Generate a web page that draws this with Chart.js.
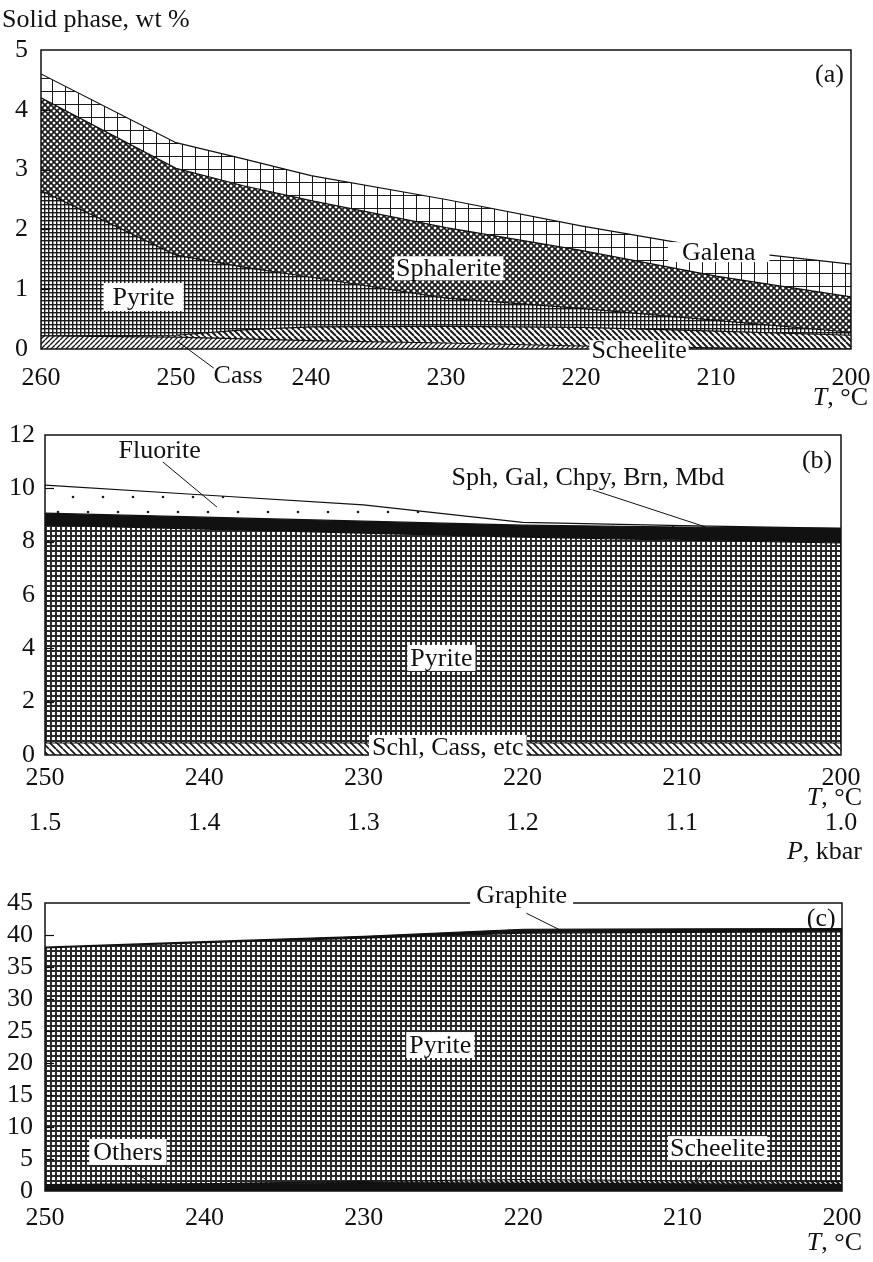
<!DOCTYPE html>
<html>
<head>
<meta charset="utf-8">
<script src="https://cdn.jsdelivr.net/npm/chart.js@4.4.1/dist/chart.umd.min.js"></script>
<style>
  body { margin: 0; background: #fff; width: 873px; height: 1262px; position: relative; overflow: hidden; }
  canvas { position: absolute; left: 0; }
</style>
</head>
<body>
<canvas id="chart-a" width="873" height="420" style="top:0"></canvas>
<canvas id="chart-b" width="873" height="450" style="top:420px"></canvas>
<canvas id="chart-c" width="873" height="392" style="top:870px"></canvas>
<script>
// (a) solid phase composition vs temperature, wt % per phase (stacked)
var tempA = [260, 250, 245, 240, 230, 220, 210, 200];
var cassA = [0.22, 0.20, 0.17, 0.14, 0.10, 0.05, 0.02, 0.0];
var scheeliteA = [0.0, 0.03, 0.15, 0.23, 0.28, 0.31, 0.28, 0.23];
var pyriteA = [2.43, 1.34, 1.05, 0.83, 0.47, 0.32, 0.18, 0.05];
var sphaleriteA = [1.55, 1.45, 1.36, 1.28, 1.18, 0.97, 0.74, 0.59];
var galenaA = [0.40, 0.43, 0.45, 0.42, 0.47, 0.41, 0.45, 0.55];
var yTicksA = [0, 5, 1];

// (b) temperature and pressure
var tempB = [250, 240, 230, 220, 210, 200];
var pressureB = [1.5, 1.4, 1.3, 1.2, 1.1, 1.0];
var schlB = [0.45, 0.45, 0.45, 0.45, 0.45, 0.45];
var pyriteB = [8.17, 8.02, 7.87, 7.72, 7.61, 7.50];
var sulfidesB = [0.45, 0.45, 0.45, 0.45, 0.49, 0.55];
var fluoriteB = [1.05, 0.83, 0.61, 0.10, 0.05, 0.0];
var yTicksB = [0, 12, 2];

// (c)
var tempC = [250, 240, 230, 220, 210, 200];
var othersC = [1.0, 1.1, 1.3, 1.2, 1.1, 1.0];
var scheeliteC = [0.0, 0.0, 0.2, 0.6, 0.5, 0.5];
var pyriteC = [37.0, 37.7, 38.0, 38.5, 38.8, 39.0];
var graphiteC = [0.1, 0.15, 0.3, 0.6, 0.55, 0.5];
var yTicksC = [0, 45, 5];

var serif = '"Liberation Serif", "Times New Roman", serif';
var ink = "#111";
var tickFont = { family: serif, size: 26, lineHeight: 1 };

// ---- fill patterns ----
function tile(w, h, paint) {
  var c = document.createElement("canvas");
  c.width = w;
  c.height = h;
  var g = c.getContext("2d");
  g.fillStyle = "#fff";
  g.fillRect(0, 0, w, h);
  paint(g);
  return g.createPattern(c, "repeat");
}

function squares(cell, line, color) {
  return tile(cell, cell, function (g) {
    g.fillStyle = color || "#1a1a1a";
    g.fillRect(0, 0, cell, line);
    g.fillRect(0, 0, line, cell);
  });
}

function diag(g, size, back) {
  for (var k = -1; k <= 1; k++) {
    if (back) {
      g.moveTo(k * size, 0);
      g.lineTo(k * size + size, size);
    } else {
      g.moveTo(k * size, size);
      g.lineTo(k * size + size, 0);
    }
  }
}

function hatch(size, lw, back) {
  return tile(size, size, function (g) {
    g.strokeStyle = "#1a1a1a";
    g.lineWidth = lw;
    g.beginPath();
    diag(g, size, back);
    g.stroke();
  });
}

function crossHatch(size, lw) {
  return tile(size, size, function (g) {
    g.strokeStyle = "#1a1a1a";
    g.lineWidth = lw;
    g.beginPath();
    diag(g, size, true);
    diag(g, size, false);
    g.stroke();
  });
}

function dots(w, h, pts) {
  return tile(w, h, function (g) {
    g.fillStyle = "#1a1a1a";
    pts.forEach(function (p) {
      g.beginPath();
      g.arc(p[0], p[1], 1.3, 0, Math.PI * 2);
      g.fill();
    });
  });
}

// ---- helpers ----
function points(xs, ys) {
  return ys.map(function (y, i) { return { x: xs[i], y: y }; });
}

function layer(label, xs, ys, fillStyle, first) {
  return {
    label: label,
    data: points(xs, ys),
    backgroundColor: fillStyle,
    borderColor: ink,
    borderWidth: 1.2,
    pointRadius: 0,
    tension: 0,
    fill: first ? "origin" : "-1",
  };
}

// keep the plot box exactly where the layout padding puts it
function fixHeight(h) {
  return function (s) {
    s.height = h;
    s.paddingLeft = 0;
    s.paddingRight = 0;
  };
}

function xAxis(xs, pad, height) {
  return {
    type: "linear",
    position: "bottom",
    min: Math.min.apply(null, xs),
    max: Math.max.apply(null, xs),
    reverse: true,
    ticks: { stepSize: 10, padding: pad, color: ink, maxRotation: 0, autoSkip: false, font: tickFont },
    grid: { display: false },
    border: { display: false },
    afterFit: fixHeight(height),
  };
}

function yAxis(t, pad, width) {
  return {
    stacked: true,
    min: t[0],
    max: t[1],
    ticks: { stepSize: t[2], padding: pad, color: ink, autoSkip: false, font: tickFont },
    grid: { display: false },
    border: { display: false },
    afterFit: function (s) {
      s.width = width;
      s.paddingTop = 0;
      s.paddingBottom = 0;
    },
  };
}

// frame, inward ticks, leader lines, labels and unit captions
var decor = {
  id: "decor",
  afterDraw: function (chart, args, opts) {
    var ctx = chart.ctx;
    var a = chart.chartArea;
    var xs = chart.scales.x;
    var ys = chart.scales.y;
    ctx.save();
    ctx.strokeStyle = ink;

    ctx.lineWidth = 1.2;
    ys.ticks.forEach(function (t) {
      if (t.value === ys.min || t.value === ys.max) return;
      var py = Math.round(ys.getPixelForValue(t.value)) + 0.5;
      ctx.beginPath();
      ctx.moveTo(a.left, py);
      ctx.lineTo(a.left + 9, py);
      ctx.stroke();
    });

    ctx.lineWidth = 1.5;
    ctx.strokeRect(a.left, a.top, a.right - a.left, a.bottom - a.top);

    ctx.lineWidth = 1;
    (opts.leaders || []).forEach(function (l) {
      ctx.beginPath();
      ctx.moveTo(xs.getPixelForValue(l[0]), ys.getPixelForValue(l[1]));
      ctx.lineTo(xs.getPixelForValue(l[2]), ys.getPixelForValue(l[3]));
      ctx.stroke();
    });

    ctx.font = "26px " + serif;
    ctx.textBaseline = "middle";
    ctx.textAlign = "center";
    (opts.labels || []).forEach(function (l) {
      var px = xs.getPixelForValue(l.t);
      var py = ys.getPixelForValue(l.v);
      var w = ctx.measureText(l.text).width;
      if (l.box) {
        ctx.fillStyle = "#fff";
        ctx.fillRect(px - w / 2 - l.box[0], py - 11 - l.box[1], w + 2 * l.box[0], 22 + 2 * l.box[1]);
      }
      ctx.fillStyle = ink;
      ctx.fillText(l.text, px, py + 1);
    });

    // "T, °C" style captions: italic symbol + upright rest, right aligned
    ctx.textAlign = "left";
    (opts.units || []).forEach(function (u) {
      var right = a.right + u.dx;
      var py = a.bottom + u.dy;
      ctx.font = "26px " + serif;
      var wRest = ctx.measureText(u.rest).width;
      ctx.font = "italic 26px " + serif;
      var wSym = ctx.measureText(u.sym).width;
      ctx.fillStyle = ink;
      ctx.fillText(u.sym, right - wRest - wSym, py);
      ctx.font = "26px " + serif;
      ctx.fillText(u.rest, right - wRest, py);
    });

    if (opts.title) {
      ctx.font = "26px " + serif;
      ctx.fillStyle = ink;
      ctx.fillText(opts.title.text, a.left + opts.title.dx, a.top + opts.title.dy);
    }
    ctx.restore();
  },
};

function baseOptions(padding) {
  return {
    responsive: false,
    animation: false,
    devicePixelRatio: 1,
    events: [],
    layout: { padding: padding },
  };
}

// ---- (a) ----
var optsA = baseOptions({ top: 50, right: 22, bottom: 27, left: 0 });
optsA.scales = { x: xAxis(tempA, 8, 44), y: yAxis(yTicksA, 5, 41) };
optsA.plugins = {
  legend: { display: false },
  tooltip: { enabled: false },
  decor: {
    title: { text: "Solid phase, wt %", dx: -39, dy: -30 },
    units: [{ sym: "T", rest: ", °C", dx: 17, dy: 49 }],
    leaders: [[249.9, 0.13, 247.2, -0.32]],
    labels: [
      { text: "Pyrite", t: 252.4, v: 0.87, box: [9, 3] },
      { text: "Sphalerite", t: 229.8, v: 1.35, box: [2, 1] },
      { text: "Galena", t: 209.8, v: 1.62, box: [14, -1] },
      { text: "Scheelite", t: 215.7, v: -0.02, box: [2, -1] },
      { text: "Cass", t: 245.4, v: -0.43 },
      { text: "(a)", t: 201.6, v: 4.6 },
    ],
  },
};
new Chart(document.getElementById("chart-a"), {
  type: "line",
  data: {
    datasets: [
      layer("Cass", tempA, cassA, hatch(5, 1.4, false), true),
      layer("Scheelite", tempA, scheeliteA, hatch(6, 2, true)),
      layer("Pyrite", tempA, pyriteA, squares(4, 1.4)),
      layer("Sphalerite", tempA, sphaleriteA, crossHatch(6, 1.7)),
      layer("Galena", tempA, galenaA, squares(13, 1)),
    ],
  },
  options: optsA,
  plugins: [decor],
});

// ---- (b) ----
var optsB = baseOptions({ top: 15, right: 32, bottom: 33, left: 0 });
optsB.scales = {
  x: xAxis(tempB, 2, 42),
  p: {
    type: "linear",
    position: "bottom",
    min: Math.min.apply(null, pressureB),
    max: Math.max.apply(null, pressureB),
    reverse: true,
    ticks: {
      stepSize: 0.1,
      padding: 5,
      color: ink,
      maxRotation: 0,
      autoSkip: false,
      font: tickFont,
      callback: function (v) { return v.toFixed(1); },
    },
    grid: { display: false },
    border: { display: false },
    afterFit: fixHeight(40),
  },
  y: yAxis(yTicksB, 2, 45),
};
optsB.plugins = {
  legend: { display: false },
  tooltip: { enabled: false },
  decor: {
    units: [
      { sym: "T", rest: ", °C", dx: 21, dy: 43 },
      { sym: "P", rest: ", kbar", dx: 21, dy: 97 },
    ],
    leaders: [
      [242.6, 10.99, 239.2, 9.3],
      [215.6, 9.94, 208.5, 8.55],
    ],
    labels: [
      { text: "Fluorite", t: 242.8, v: 11.44 },
      { text: "Sph, Gal, Chpy, Brn, Mbd", t: 215.9, v: 10.42 },
      { text: "(b)", t: 201.5, v: 11.06 },
      { text: "Pyrite", t: 225.1, v: 3.64, box: [3, 2] },
      { text: "Schl, Cass, etc", t: 224.7, v: 0.3, box: [3, 1] },
    ],
  },
};
new Chart(document.getElementById("chart-b"), {
  type: "line",
  data: {
    datasets: [
      layer("Schl, Cass, etc", tempB, schlB, hatch(7, 1.8, true), true),
      layer("Pyrite", tempB, pyriteB, squares(5, 2, "#2a2a2a")),
      layer("Sph, Gal, Chpy, Brn, Mbd", tempB, sulfidesB, ink),
      layer("Fluorite", tempB, fluoriteB, dots(30, 30, [[13, 17], [28, 2]])),
    ],
  },
  options: optsB,
  plugins: [decor],
});

// ---- (c) ----
var optsC = baseOptions({ top: 33, right: 31, bottom: 31, left: 0 });
optsC.scales = { x: xAxis(tempC, 6, 40), y: yAxis(yTicksC, 4, 45) };
optsC.plugins = {
  legend: { display: false },
  tooltip: { enabled: false },
  decor: {
    units: [{ sym: "T", rest: ", °C", dx: 20, dy: 52 }],
    leaders: [
      [219.8, 43.4, 217.7, 40.8],
      [245.1, 4.2, 242.9, 0.5],
      [208.1, 4.8, 209.5, 0.5],
    ],
    labels: [
      { text: "Graphite", t: 220.1, v: 46.25, box: [6, 0] },
      { text: "(c)", t: 201.3, v: 42.6 },
      { text: "Pyrite", t: 225.2, v: 22.8, box: [3, 2] },
      { text: "Others", t: 244.8, v: 6.1, box: [4, 2] },
      { text: "Scheelite", t: 207.8, v: 6.7, box: [2, 1] },
    ],
  },
};
new Chart(document.getElementById("chart-c"), {
  type: "line",
  data: {
    datasets: [
      layer("Others", tempC, othersC, ink, true),
      layer("Scheelite", tempC, scheeliteC, hatch(5, 2.5, true)),
      layer("Pyrite", tempC, pyriteC, squares(5, 2, "#2a2a2a")),
      layer("Graphite", tempC, graphiteC, ink),
    ],
  },
  options: optsC,
  plugins: [decor],
});
</script>
</body>
</html>
